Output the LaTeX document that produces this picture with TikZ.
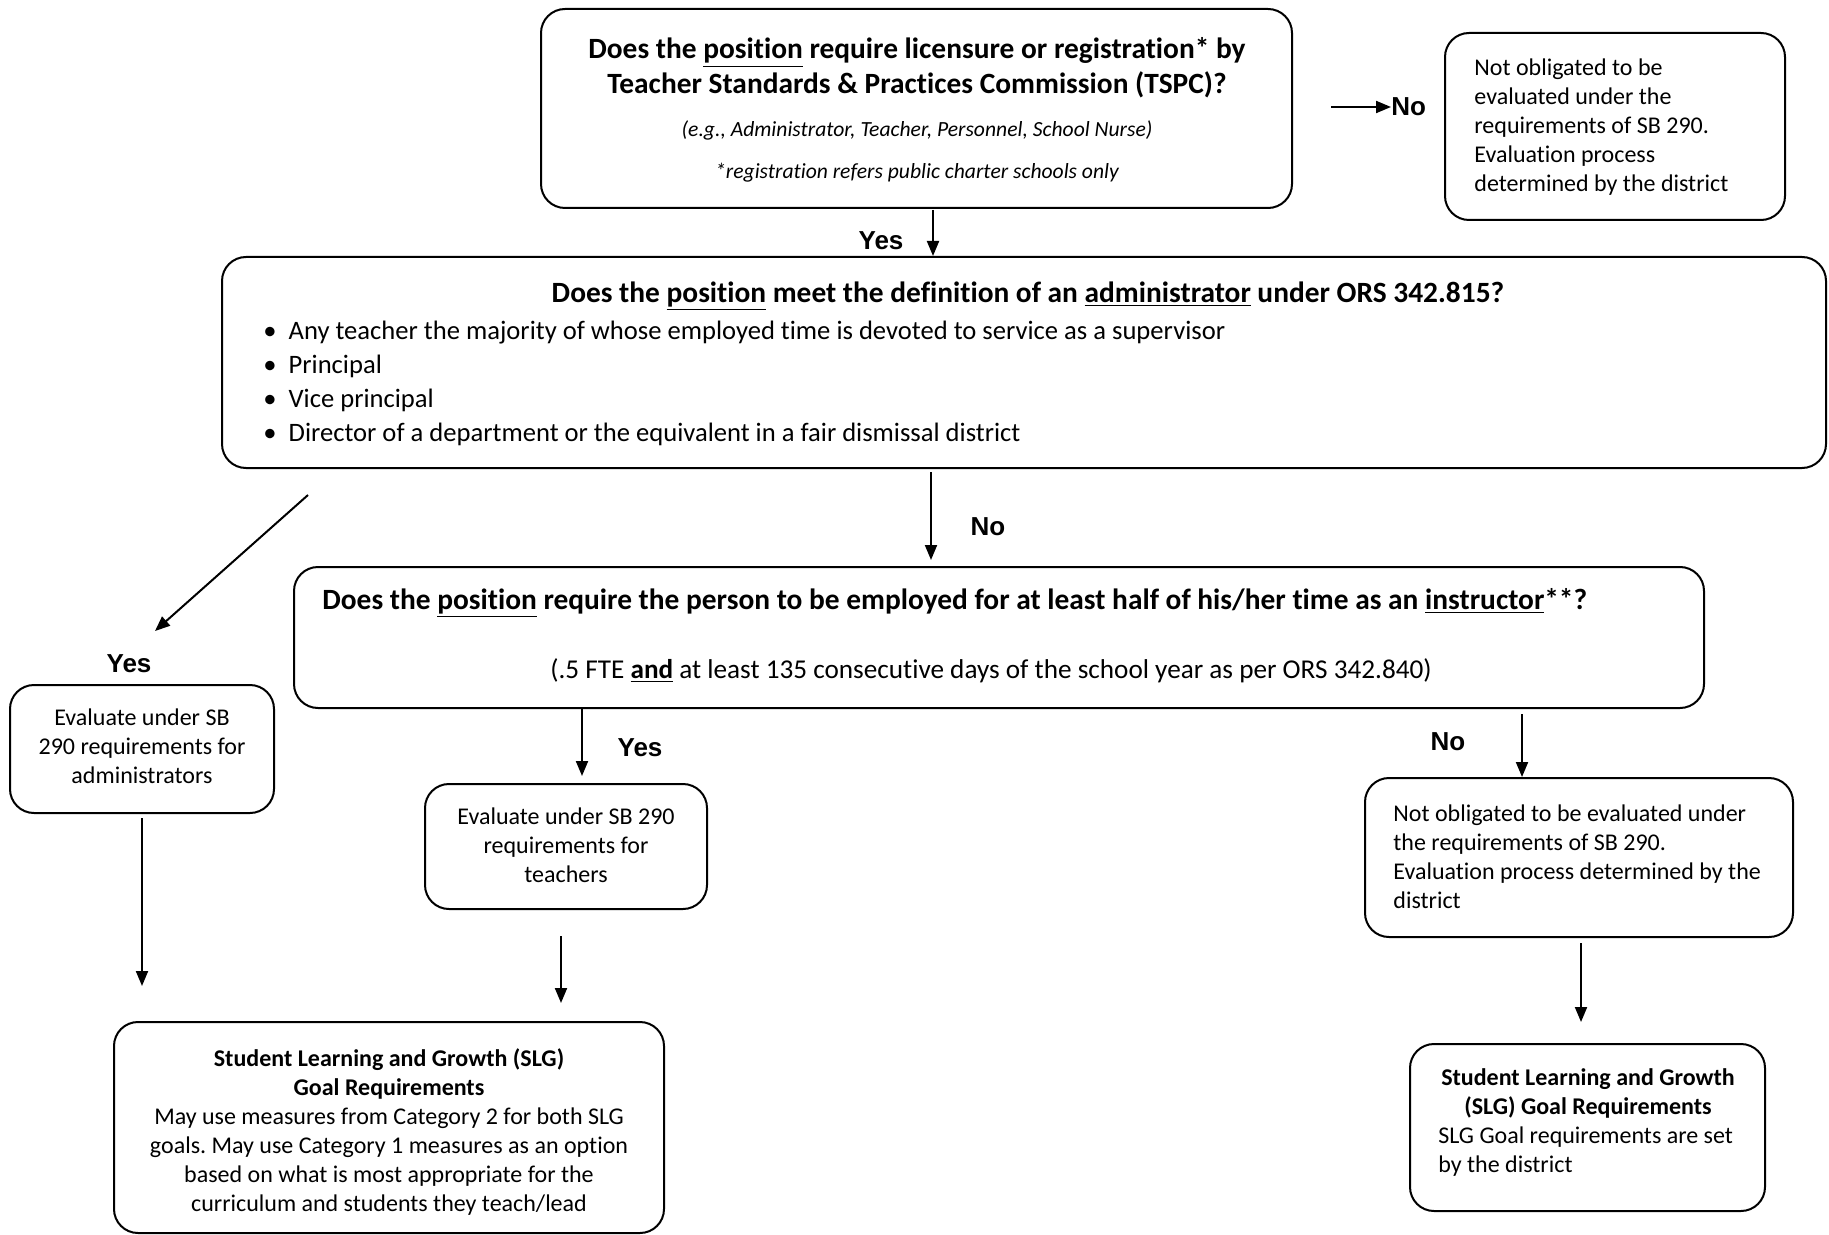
\documentclass[tikz,border=0pt]{standalone}
\usepackage{fontspec}
\setmainfont{Carlito}[Ligatures=NoCommon]
\newfontfamily\labfont{Liberation Sans}
\usetikzlibrary{arrows.meta}
\frenchspacing
\begin{document}
\begin{tikzpicture}[x=0.5pt,y=-0.5pt,
 box/.style={draw, line width=1pt, rounded corners=12pt, inner sep=0pt},
 arr/.style={draw, line width=1pt, -{Triangle[length=7.5pt,width=6pt]}},
 lbl/.style={font=\labfont\bfseries\fontsize{13}{15}\selectfont, inner sep=0pt},
 txt/.style={font=\fontsize{12}{14.5}\selectfont, inner sep=0pt},
 ttl/.style={font=\bfseries\fontsize{14.7}{17.5}\selectfont, inner sep=0pt},
 itl/.style={font=\itshape\fontsize{10.8}{12}\selectfont, inner sep=0pt},
]
\useasboundingbox (0,0) rectangle (1829,1235);

% boxes
\node[box, minimum width=375.5pt, minimum height=99.5pt] (b1) at (916.5,108.5) {};
\node[box, minimum width=170pt, minimum height=93.5pt] (b2) at (1615,126.5) {};
\node[box, minimum width=802pt, minimum height=105.5pt] (b3) at (1024,362.5) {};
\node[box, minimum width=705pt, minimum height=70.5pt] (b4) at (999,637.5) {};
\node[box, minimum width=132pt, minimum height=64pt] (b5) at (142,749) {};
\node[box, minimum width=141pt, minimum height=62.5pt] (b6) at (566,846.5) {};
\node[box, minimum width=275pt, minimum height=105.5pt] (b7) at (389,1127.5) {};
\node[box, minimum width=214pt, minimum height=79.5pt] (b8) at (1579,857.5) {};
\node[box, minimum width=177.5pt, minimum height=83.5pt] (b9) at (1587.5,1127.5) {};

% box 1 text
\node[ttl, align=center] (t1) at (917,68) {Does the \underline{position} require licensure or registration* by\\Teacher Standards \& Practices Commission (TSPC)?};
\node[itl] (t1a) at (917,130) {(e.g., Administrator, Teacher, Personnel, School Nurse)};
\node[itl] (t1b) at (917,173) {*registration refers public charter schools only};

% box 2 text
\node[txt, align=left, anchor=west] (t2) at (1474,127.5) {Not obligated to be\\evaluated under the\\requirements of SB 290.\\Evaluation process\\determined by the district};

% box 3 text
\node[ttl] (t3) at (1028,296) {Does the \underline{position} meet the definition of an \underline{administrator} under ORS 342.815?};
\node[font=\fontsize{13.3}{17}\selectfont, inner sep=0pt, align=left, anchor=west] (t3b) at (263,383) {\textbullet\hspace{6pt}Any teacher the majority of whose employed time is devoted to service as a supervisor\\\textbullet\hspace{6pt}Principal\\\textbullet\hspace{6pt}Vice principal\\\textbullet\hspace{6pt}Director of a department or the equivalent in a fair dismissal district};

% box 4 text
\node[ttl, anchor=west] (t4) at (322,603) {Does the \underline{position} require the person to be employed for at least half of his/her time as an \underline{instructor}**?};
\node[font=\fontsize{13.6}{15}\selectfont, inner sep=0pt] (t4b) at (991,671) {(.5 FTE \textbf{\underline{and}} at least 135 consecutive days of the school year as per ORS 342.840)};

% box 5, 6 text
\node[txt, align=center] (t5) at (142,746) {Evaluate under SB\\290 requirements for\\administrators};
\node[txt, align=center] (t6) at (566,845) {Evaluate under SB 290\\requirements for\\teachers};

% box 7 text
\node[txt, align=center] (t7) at (389,1132) {\textbf{Student Learning and Growth (SLG)}\\\textbf{Goal Requirements}\\May use measures from Category 2 for both SLG\\goals. May use Category 1 measures as an option\\based on what is most appropriate for the\\curriculum and students they teach/lead};

% box 8 text
\node[txt, align=left, anchor=west] (t8) at (1393,857) {Not obligated to be evaluated under\\the requirements of SB 290.\\Evaluation process determined by the\\district};

% box 9 text
\node[txt, font=\bfseries\fontsize{12}{14.5}\selectfont, align=center] (t9a) at (1588,1093.5) {Student Learning and Growth\\(SLG) Goal Requirements};
\node[txt, align=left, anchor=west] (t9b) at (1438,1151.5) {SLG Goal requirements are set\\by the district};

% labels
\node[lbl, anchor=west] (no1) at (1391,107) {No};
\node[lbl] (yes1) at (881,241) {Yes};
\node[lbl] (no2) at (988,527) {No};
\node[lbl] (yes2) at (129,664) {Yes};
\node[lbl] (yes3) at (640,748) {Yes};
\node[lbl] (no3) at (1448,742) {No};

% coordinates
\coordinate (c1) at (1331,107);
\coordinate (c2) at (933,210);
\coordinate (c3) at (931,472);
\coordinate (c4) at (931,560);
\coordinate (d1) at (308,495);
\coordinate (d2) at (155,631);
\coordinate (c5) at (142,818);
\coordinate (c6) at (142,986);
\coordinate (c7) at (582,776);
\coordinate (c8) at (561,936);
\coordinate (c9) at (561,1003);
\coordinate (c10) at (1522,714);
\coordinate (c11) at (1581,943);
\coordinate (c12) at (1581,1022);

% connectors
\draw[arr] (c1) -- (no1.west);
\draw[arr] (c2) -- (c2 |- b3.north);
\draw[arr] (c3) -- (c4);
\draw[arr] (d1) -- (d2);
\draw[arr] (c5) -- (c6);
\draw[arr] (c7 |- b4.south) -- (c7);
\draw[arr] (c8) -- (c9);
\draw[arr] (c10) -- (c10 |- b8.north);
\draw[arr] (c11) -- (c12);
\end{tikzpicture}
\end{document}
